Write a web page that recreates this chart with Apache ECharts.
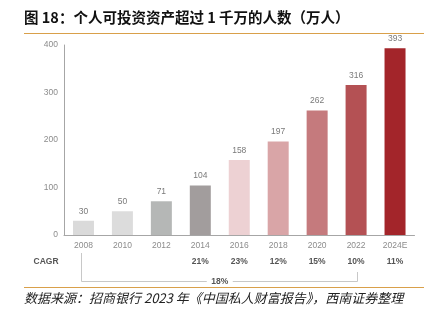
<!DOCTYPE html>
<html>
<head>
<meta charset="utf-8">
<script src="https://cdn.jsdelivr.net/npm/echarts@6/dist/echarts.min.js"></script>
<style>
  html, body { margin: 0; padding: 0; background: #fff; }
  #chart { width: 428px; height: 321px; }
</style>
</head>
<body>
<div id="chart"></div>
<script>
// Years and headcount (10k people) with more than 10M investable assets
const years = ['2008', '2010', '2012', '2014', '2016', '2018', '2020', '2022', '2024E'];
const people = [30, 50, 71, 104, 158, 197, 262, 316, 393];
const barColors = ['#dadada', '#dcdcdc', '#b5b7b6', '#a29d9d', '#edd1d3', '#d9a5a7', '#c57a7d', '#b45154', '#a3252a'];
// Period growth rates shown beneath the axis
const cagr = ['', '', '', '21%', '23%', '12%', '15%', '10%', '11%'];
const cagrOverall = '18%';
const yTicks = [0, 100, 200, 300, 400];

const titleText = '图 18：个人可投资资产超过 1 千万的人数（万人）';
const sourceText = '数据来源：招商银行 2023 年《中国私人财富报告》，西南证券整理';

const numFont = '"Liberation Sans", Arial, sans-serif';
const cjkFont = '"Noto Sans CJK SC", "Liberation Sans", sans-serif';
const orange = '#d9a04a';

const chart = echarts.init(document.getElementById('chart'), null, { renderer: 'canvas' });

const option = {
  animation: false,
  backgroundColor: '#fff',
  grid: { left: 64, right: 13.5, top: 45, bottom: 86, containLabel: false },
  xAxis: {
    type: 'category',
    data: years,
    axisLine: { lineStyle: { color: '#a6a6a6', width: 1 } },
    axisTick: { show: false },
    axisLabel: { color: '#8c8c8c', fontSize: 8.5, fontFamily: numFont, margin: 6 }
  },
  yAxis: {
    type: 'value',
    min: yTicks[0],
    max: yTicks[yTicks.length - 1],
    interval: 100,
    axisLine: { show: true, lineStyle: { color: '#a6a6a6', width: 1 } },
    axisTick: { show: false },
    splitLine: { show: false },
    axisLabel: { color: '#8c8c8c', fontSize: 8.5, fontFamily: numFont, margin: 6 }
  },
  series: [{
    type: 'bar',
    barWidth: 21,
    data: people.map((v, i) => ({ value: v, itemStyle: { color: barColors[i] } })),
    label: {
      show: true,
      position: 'top',
      distance: 5,
      color: '#7a7a7a',
      fontSize: 8.5,
      fontFamily: numFont
    }
  }],
  graphic: [
    {
      type: 'text', left: 24, top: 10,
      style: { text: titleText, font: 'bold 14.5px ' + cjkFont, fill: '#111' }
    },
    {
      type: 'line', shape: { x1: 24, y1: 33.5, x2: 424, y2: 33.5 },
      style: { stroke: orange, lineWidth: 1.2 }
    },
    {
      type: 'line', shape: { x1: 24, y1: 287.5, x2: 424, y2: 287.5 },
      style: { stroke: orange, lineWidth: 1.2 }
    },
    {
      type: 'text', left: 24, top: 292,
      style: { text: sourceText, font: 'italic 13px ' + cjkFont, fill: '#222' }
    }
  ]
};

chart.setOption(option);

// CAGR row and bracket, placed on the category positions of the x axis
const xs = years.map(y => chart.convertToPixel({ xAxisIndex: 0 }, y));
const rowY = 262;
const extra = [
  {
    type: 'text', x: 46, y: rowY,
    style: { text: 'CAGR', font: 'bold 8.5px ' + numFont, fill: '#555', align: 'center', verticalAlign: 'middle' }
  }
];
cagr.forEach((t, i) => {
  if (!t) return;
  extra.push({
    type: 'text', x: xs[i], y: rowY,
    style: { text: t, font: 'bold 8.5px ' + numFont, fill: '#555', align: 'center', verticalAlign: 'middle' }
  });
});
const bx1 = Math.round(xs[0]) - 1.5;
const bx2 = Math.round(xs[7]) + 1.5;
const by = 281.5;
const midX = (xs[3] + xs[4]) / 2;
extra.push(
  { type: 'polyline', shape: { points: [[bx1, 253], [bx1, by], [midX - 13, by]] },
    style: { stroke: '#c8c8c8', lineWidth: 1, fill: null } },
  { type: 'polyline', shape: { points: [[midX + 13, by], [bx2, by], [bx2, 272]] },
    style: { stroke: '#c8c8c8', lineWidth: 1, fill: null } },
  { type: 'text', x: midX, y: by,
    style: { text: cagrOverall, font: 'bold 8.5px ' + numFont, fill: '#555', align: 'center', verticalAlign: 'middle' } }
);
chart.setOption({ graphic: option.graphic.concat(extra) });
</script>
</body>
</html>
